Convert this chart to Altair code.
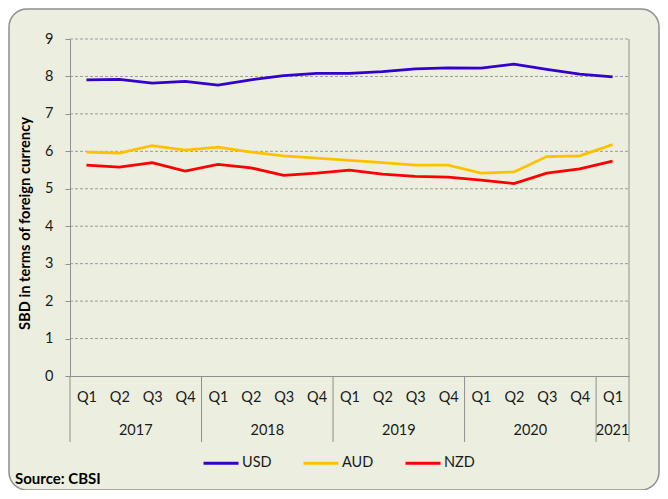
import altair as alt
import pandas as pd

years = ["2017"] * 4 + ["2018"] * 4 + ["2019"] * 4 + ["2020"] * 4 + ["2021"]
quarters = ["Q1", "Q2", "Q3", "Q4"] * 4 + ["Q1"]
usd = [7.91, 7.92, 7.82, 7.87, 7.77, 7.91, 8.02, 8.08, 8.08, 8.13, 8.20, 8.23, 8.22, 8.33, 8.19, 8.06, 7.99]
aud = [5.98, 5.95, 6.15, 6.03, 6.11, 5.98, 5.88, 5.82, 5.76, 5.70, 5.63, 5.63, 5.42, 5.45, 5.86, 5.88, 6.18]
nzd = [5.63, 5.58, 5.70, 5.47, 5.65, 5.56, 5.36, 5.42, 5.50, 5.39, 5.33, 5.31, 5.23, 5.14, 5.42, 5.53, 5.74]
series = ["USD", "AUD", "NZD"]
colors = ["#3300CC", "#FFC000", "#FF0000"]
year_labels = ["2017", "2018", "2019", "2020", "2021"]
year_start = [0, 4, 8, 12, 16]
year_end = [4, 8, 12, 16, 17]
grid_values = [1, 2, 3, 4, 5, 6, 7, 8, 9]

FONT = "Lato"
W, H = 559, 337
YTITLE = "SBD in terms of foreign currency"

rows = []
for i in range(len(quarters)):
    for name, vals in zip(series, [usd, aud, nzd]):
        rows.append({"pos": i + 0.5, "quarter": quarters[i], "year": years[i],
                     "series": name, "value": vals[i]})
df = pd.DataFrame(rows)

xscale = alt.Scale(domain=[0, 17], nice=False, zero=False)
yscale = alt.Scale(domain=[0, 9], nice=False)

xaxis = alt.Axis(values=[i + 0.5 for i in range(17)],
                 labelExpr="'Q' + (floor(datum.value) % 4 + 1)",
                 grid=False, ticks=False, domainColor="#8F8F8F",
                 labelPadding=14, labelFont=FONT, labelFontSize=14.5,
                 labelColor="#1A1A1A", zindex=1)
yaxis = alt.Axis(values=list(range(10)), grid=False, tickSize=5,
                 tickColor="#8F8F8F", domainColor="#8F8F8F",
                 labelPadding=12, labelFont=FONT, labelFontSize=14.5,
                 labelColor="#1A1A1A", titleFont=FONT, titleFontSize=14.7,
                 titleFontWeight="bold", titleColor="#000000",
                 titlePadding=12, titleY=184, zindex=1)

frame = alt.Chart(pd.DataFrame({"a": [0]})).mark_rect(
    cornerRadius=18, fill="#ECEFE0", stroke="#8F8F8F", strokeWidth=1.5
).encode(x=alt.value(-61), x2=alt.value(589), y=alt.value(-30), y2=alt.value(451))

grid = alt.Chart(pd.DataFrame({"value": grid_values})).mark_rule(
    color="#9A9A9A", strokeDash=[3, 2], strokeWidth=1
).encode(
    y=alt.Y("value:Q", scale=yscale, axis=yaxis, title=YTITLE),
    x=alt.value(0), x2=alt.value(W),
)

right_edge = alt.Chart(pd.DataFrame({"pos": [17], "value": [9], "bot": [0]})).mark_rule(
    color="#8F8F8F", strokeWidth=1
).encode(
    x=alt.X("pos:Q", scale=xscale, axis=xaxis, title=None),
    y=alt.Y("value:Q", scale=yscale, axis=yaxis, title=YTITLE),
    y2="bot:Q",
)

seps = alt.Chart(pd.DataFrame({"pos": year_start + [17]})).mark_rule(
    color="#8F8F8F", strokeWidth=1
).encode(
    x=alt.X("pos:Q", scale=xscale, axis=xaxis, title=None),
    y=alt.value(H), y2=alt.value(H + 66),
)

ydf = pd.DataFrame({"label": year_labels, "s": year_start, "e": year_end})
ytext = alt.Chart(ydf).transform_calculate(pos="(datum.s + datum.e) / 2").mark_text(
    font=FONT, fontSize=14.5, color="#1A1A1A", baseline="middle"
).encode(
    x=alt.X("pos:Q", scale=xscale, axis=xaxis, title=None),
    y=alt.value(H + 55),
    text="label:N",
)

lines = alt.Chart(df).mark_line(strokeWidth=2.8).encode(
    x=alt.X("pos:Q", scale=xscale, axis=xaxis, title=None),
    y=alt.Y("value:Q", scale=yscale, axis=yaxis, title=YTITLE),
    color=alt.Color("series:N", scale=alt.Scale(domain=series, range=colors), title=None,
                    legend=alt.Legend(orient="none", legendX=132, legendY=405,
                                      direction="horizontal", symbolType="stroke",
                                      symbolSize=1225, symbolStrokeWidth=3,
                                      labelFont=FONT, labelFontSize=14.5,
                                      labelColor="#1A1A1A", labelOffset=2,
                                      columnPadding=25, padding=0)),
    order="pos:Q",
)

source = alt.Chart(pd.DataFrame({"t": ["Source: CBSI"]})).mark_text(
    font=FONT, fontSize=15, fontWeight="bold", align="left", baseline="middle", color="#000000"
).encode(x=alt.value(-55), y=alt.value(440), text="t:N")

chart = alt.layer(frame, grid, right_edge, seps, ytext, lines, source).properties(
    width=W, height=H,
    padding={"left": 62, "top": 31, "right": 31, "bottom": 114},
    autosize=alt.AutoSizeParams(type="none"),
    background="white",
).configure_view(stroke=None)

chart.save("out.html", embed_options={"renderer": "svg", "actions": False})
